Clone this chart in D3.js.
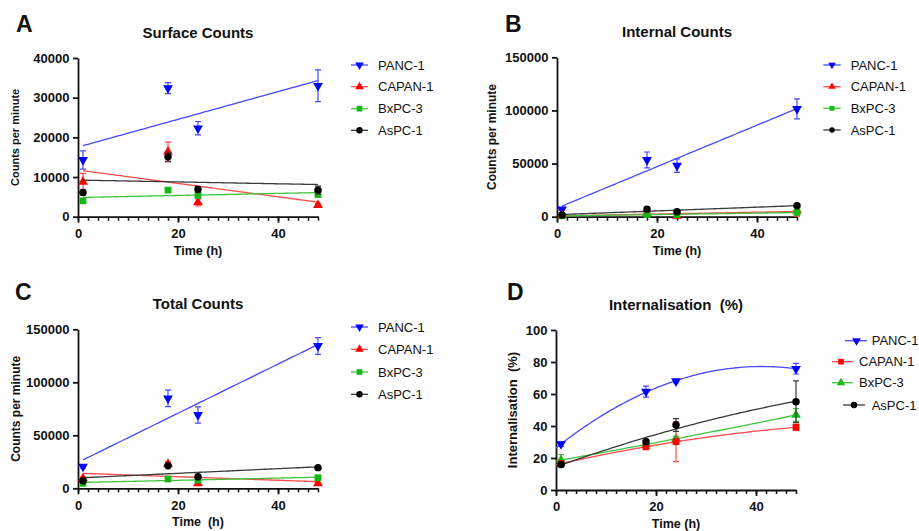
<!DOCTYPE html>
<html>
<head>
<meta charset="utf-8">
<title>Counts and internalisation</title>
<script src="https://d3js.org/d3.v7.min.js"></script>
<style>
	body { margin: 0; background: #fff; }
	text { font-family: "Liberation Sans", Arial, sans-serif; }
	.tick text { font-size: 13px; font-weight: bold; fill: #111; }
	.axis path, .axis line { stroke: #111; stroke-width: 1.8; }
	.minor line { stroke: #111; stroke-width: 1.5; }
	.title, .alabel { font-weight: bold; fill: #111; white-space: pre; }
	.legend text { font-size: 13px; fill: #111; }
</style>
</head>
<body>
<script>
// time points (h) and cell lines
var times = [1, 18, 24, 48];
var cellLines = ["PANC-1", "CAPAN-1", "BxPC-3", "AsPC-1"];

// rows: PANC-1, CAPAN-1, BxPC-3, AsPC-1
var surfaceMean = [[14300, 32400, 22300, 33000], [8800, 16400, 3600, 2900], [4000, 6700, 5400, 5600], [6100, 15100, 6900, 6700]];
var surfaceErr  = [[2300, 1400, 1700, 4000], [2100, 2400, 900, 400], [500, 600, 600, 600], [600, 1200, 700, 1000]];

var internalMean = [[7000, 53400, 48000, 101400], [1200, 3500, 700, 5600], [800, 2000, 2000, 4000], [1600, 7000, 4700, 10400]];
var internalErr  = [[1000, 7500, 6300, 9400], [400, 1000, 700, 5000], [300, 500, 500, 800], [500, 800, 700, 1500]];

var totalMean = [[20400, 84900, 69200, 134300], [9400, 23000, 4700, 4700], [4700, 8800, 7800, 10000], [7200, 21300, 11000, 19500]];
var totalErr  = [[1500, 7800, 7700, 7900], [1500, 2000, 800, 800], [500, 700, 700, 800], [1000, 1200, 1000, 1000]];

var internalisationMean = [[28.7, 61.5, 68.0, 75.8], [16.5, 27, 30.2, 39.2], [18.7, 28.5, 32, 46.9], [16, 30.2, 40.6, 55.2]];
var internalisationErr  = [[1.5, 3.4, 1, 3.3], [1.5, 1.5, 12.5, 2], [3.5, 1.5, 1.5, 4], [1.5, 1.5, 4, 13]];

var countTicks = [0, 50000, 100000, 150000];
var surfaceTicks = [0, 10000, 20000, 30000, 40000];
var percentTicks = [0, 20, 40, 60, 80, 100];
var timeTicks = [0, 20, 40];

var markColor = ["#0000ff", "#ff0000", "#14b814", "#000000"];
var lineColor = ["#4848ff", "#ff4a4a", "#3fc43f", "#3a3a3a"];

var svg = d3.select("body").append("svg")
	.attr("width", 919)
	.attr("height", 531);

var panels = [
	{letter: "A", lx: 16, ly: 32, title: "Surface Counts", xlabel: "Time (h)", ylabel: "Counts per minute", ylx: 19, ylSize: 11,
	 mean: surfaceMean, err: surfaceErr, ticks: surfaceTicks, box: [78, 318, 58, 216.7],
	 shapes: ["down", "up", "square", "circle"], order: [0, 1, 2, 3], fit: 1, fitFrom: 1,
	 legend: {rows: [65, 86.7, 108.7, 130.3], line: [[351, 368]], mark: [359.5], text: [378]}},
	{letter: "B", lx: 505, ly: 32, title: "Internal Counts", xlabel: "Time (h)", ylabel: "Counts per minute", ylx: 496, ylSize: 12,
	 mean: internalMean, err: internalErr, ticks: countTicks, box: [557, 797, 57.3, 216.7],
	 shapes: ["down", "up", "square", "circle"], order: [0, 1, 2, 3], fit: 1, fitFrom: 1,
	 legend: {rows: [65, 86.7, 108.3, 130], line: [[823.3, 840.7]], mark: [832], text: [850.7], small: true}},
	{letter: "C", lx: 15, ly: 300, title: "Total Counts", xlabel: "Time  (h)", ylabel: "Counts per minute", ylx: 19.5, ylSize: 12,
	 mean: totalMean, err: totalErr, ticks: countTicks, box: [78, 318, 329.3, 488.3],
	 shapes: ["down", "up", "square", "circle"], order: [0, 1, 2, 3], fit: 1, fitFrom: 1,
	 legend: {rows: [327, 349.3, 372, 394.3], line: [[351, 368]], mark: [359.5], text: [378]}},
	{letter: "D", lx: 507, ly: 300, title: "Internalisation  (%)", xlabel: "Time (h)", ylabel: "Internalisation  (%)", ylx: 516.5, ylSize: 13,
	 mean: internalisationMean, err: internalisationErr, ticks: percentTicks, box: [556, 796, 330, 490],
	 shapes: ["down", "square", "up", "circle"], order: [0, 2, 1, 3], fit: 2, fitFrom: 0,
	 legend: {rows: [340.7, 361.7, 382.7, 405],
	          line: [[845, 867], [832, 853], [832, 853], [843, 865]],
	          mark: [856.5, 841, 841, 854], text: [871.7, 859, 859, 871.7]}}
];

// least squares polynomial (degree 1 or 2)
function polyFit(xs, ys, deg) {
	var n = deg + 1, A = [], i, j, k;
	for (i = 0; i < n; i++) {
		A.push([]);
		for (j = 0; j < n; j++) A[i].push(d3.sum(xs, function(x) { return Math.pow(x, i + j); }));
		A[i].push(d3.sum(xs, function(x, m) { return Math.pow(x, i) * ys[m]; }));
	}
	for (i = 0; i < n; i++) {
		for (k = i + 1; k < n; k++) {
			var f = A[k][i] / A[i][i];
			for (j = i; j <= n; j++) A[k][j] -= f * A[i][j];
		}
	}
	var c = new Array(n);
	for (i = n - 1; i >= 0; i--) {
		var s = A[i][n];
		for (j = i + 1; j < n; j++) s -= A[i][j] * c[j];
		c[i] = s / A[i][i];
	}
	return function(x) { return d3.sum(c, function(v, p) { return v * Math.pow(x, p); }); };
}

function symbolPath(shape, size) {
	var t = shape == "circle" ? d3.symbolCircle : shape == "square" ? d3.symbolSquare : d3.symbolTriangle;
	return d3.symbol().type(t).size(size)();
}

function drawMarker(g, shape, x, y, color, size) {
	g.append("path")
		.attr("d", symbolPath(shape, size))
		.attr("transform", "translate(" + x + "," + y + ")" + (shape == "down" ? " rotate(180)" : ""))
		.style("fill", color);
}

panels.forEach(function(p) {
	var x = d3.scaleLinear().domain([0, 48]).range([p.box[0], p.box[1]]);
	var y = d3.scaleLinear().domain([0, d3.max(p.ticks)]).range([p.box[3], p.box[2]]);
	var g = svg.append("g");

	// minor ticks every 2 h
	g.append("g")
		.attr("class", "minor")
		.attr("transform", "translate(0," + p.box[3] + ")")
		.call(d3.axisBottom(x).tickValues(d3.range(0, 49, 2)).tickSize(4).tickFormat(""))
		.select(".domain").remove();

	g.append("g")
		.attr("class", "axis")
		.attr("transform", "translate(0," + p.box[3] + ")")
		.call(d3.axisBottom(x).tickValues(timeTicks).tickSize(6).tickSizeOuter(0).tickPadding(6).tickFormat(d3.format("d")));

	g.append("g")
		.attr("class", "axis")
		.attr("transform", "translate(" + p.box[0] + ",0)")
		.call(d3.axisLeft(y).tickValues(p.ticks).tickSize(5).tickSizeOuter(0).tickPadding(3.5).tickFormat(d3.format("d")));

	svg.append("text").attr("class", "title")
		.attr("x", p.lx).attr("y", p.ly)
		.style("font-size", "23px")
		.text(p.letter);

	svg.append("text").attr("class", "title")
		.attr("x", (p.box[0] + p.box[1]) / 2).attr("y", p.box[2] - 20.5)
		.attr("text-anchor", "middle")
		.style("font-size", "15px")
		.text(p.title);

	svg.append("text").attr("class", "alabel")
		.attr("x", (p.box[0] + p.box[1]) / 2).attr("y", p.box[3] + 38)
		.attr("text-anchor", "middle")
		.style("font-size", "12.5px")
		.text(p.xlabel);

	svg.append("text").attr("class", "alabel")
		.attr("transform", "translate(" + p.ylx + "," + (p.box[2] + p.box[3]) / 2 + ") rotate(-90)")
		.attr("text-anchor", "middle")
		.style("font-size", p.ylSize + "px")
		.text(p.ylabel);

	// series: fit line, error bars, markers
	p.order.forEach(function(s) {
		var sg = g.append("g");
		var fx = polyFit(times, p.mean[s], p.fit);
		var xs = d3.range(p.fitFrom, 48.01, 0.5);
		sg.append("path")
			.attr("d", d3.line().x(function(t) { return x(t); }).y(function(t) { return y(fx(t)); })(xs))
			.style("fill", "none")
			.style("stroke", lineColor[s])
			.style("stroke-width", 1.3);

		times.forEach(function(t, i) {
			var m = p.mean[s][i], e = p.err[s][i];
			var yl = y(Math.max(0, m - e)), yh = y(m + e), cx = x(t);
			sg.append("path")
				.attr("d", "M" + cx + "," + yl + "V" + yh + "M" + (cx - 3) + "," + yh + "H" + (cx + 3) +
					(m - e > 0 ? "M" + (cx - 3) + "," + yl + "H" + (cx + 3) : ""))
				.style("fill", "none")
				.style("stroke", lineColor[s])
				.style("stroke-width", 1.2);
		});
		times.forEach(function(t, i) {
			drawMarker(sg, p.shapes[s], x(t), y(p.mean[s][i]), markColor[s], p.shapes[s] == "circle" ? 44 : p.shapes[s] == "square" ? 46 : 42);
		});
	});

	// legend
	var lg = svg.append("g").attr("class", "legend");
	cellLines.forEach(function(name, s) {
		var k = p.legend.line.length > 1 ? s : 0;
		var ry = p.legend.rows[s];
		lg.append("line")
			.attr("x1", p.legend.line[k][0]).attr("x2", p.legend.line[k][1])
			.attr("y1", ry).attr("y2", ry)
			.style("stroke", lineColor[s])
			.style("stroke-width", 1.3);
		drawMarker(lg, p.shapes[s], p.legend.mark[k], ry, markColor[s], p.legend.small ? 24 : 32);
		lg.append("text")
			.attr("x", p.legend.text[k]).attr("y", ry)
			.attr("dy", "0.36em")
			.text(name);
	});
});
</script>
</body>
</html>
